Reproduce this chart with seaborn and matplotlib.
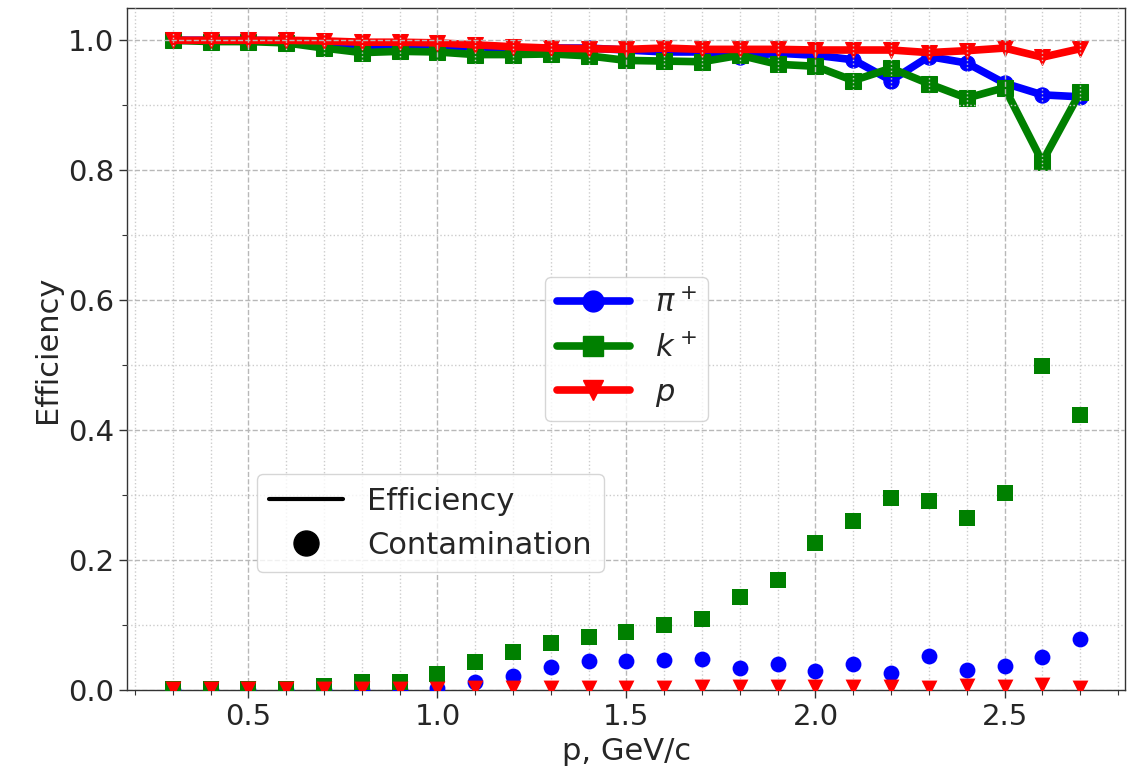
import numpy as np
import matplotlib
matplotlib.use("Agg")
import matplotlib.pyplot as plt
from matplotlib.lines import Line2D
from matplotlib.ticker import MultipleLocator
import seaborn as sns

sns.set_style("ticks")
plt.rcParams['font.family'] = ['DejaVu Sans']
plt.rcParams['mathtext.fontset'] = 'dejavusans'

# momentum, GeV/c
p = [0.3, 0.4, 0.5, 0.6, 0.7, 0.8, 0.9, 1.0, 1.1, 1.2, 1.3, 1.4, 1.5,
     1.6, 1.7, 1.8, 1.9, 2.0, 2.1, 2.2, 2.3, 2.4, 2.5, 2.6, 2.7]

# efficiency
eff_pi = [1.000, 1.000, 1.000, 0.999, 0.995, 0.992, 0.991, 0.990, 0.990, 0.988, 0.988, 0.988, 0.985,
          0.982, 0.982, 0.975, 0.980, 0.977, 0.970, 0.938, 0.975, 0.965, 0.934, 0.916, 0.913]
eff_k = [1.000, 0.998, 0.998, 0.996, 0.988, 0.981, 0.983, 0.982, 0.978, 0.978, 0.979, 0.976, 0.969,
         0.968, 0.967, 0.977, 0.963, 0.960, 0.938, 0.957, 0.933, 0.911, 0.927, 0.813, 0.920]
eff_p = [1.000, 1.000, 1.000, 1.000, 0.999, 0.997, 0.997, 0.996, 0.993, 0.990, 0.988, 0.987, 0.986,
         0.988, 0.986, 0.986, 0.986, 0.985, 0.985, 0.985, 0.981, 0.984, 0.988, 0.974, 0.987]

# contamination
cont_pi = [0.000, 0.000, 0.000, 0.000, 0.000, 0.000, 0.000, 0.003, 0.013, 0.022, 0.036, 0.044, 0.044,
           0.046, 0.048, 0.034, 0.040, 0.029, 0.040, 0.026, 0.053, 0.031, 0.037, 0.051, 0.079]
cont_k = [0.001, 0.001, 0.001, 0.002, 0.007, 0.013, 0.013, 0.024, 0.043, 0.059, 0.073, 0.082, 0.090,
          0.100, 0.109, 0.144, 0.169, 0.227, 0.260, 0.296, 0.291, 0.265, 0.304, 0.498, 0.423]
cont_p = [0.002, 0.002, 0.002, 0.002, 0.002, 0.002, 0.002, 0.002, 0.003, 0.003, 0.003, 0.003, 0.003,
          0.003, 0.004, 0.004, 0.004, 0.004, 0.004, 0.005, 0.003, 0.006, 0.004, 0.008, 0.003]

species = [
    (r"$\pi^+$", eff_pi, cont_pi, "blue", "o"),
    (r"$k^+$", eff_k, cont_k, "green", "s"),
    (r"$p$", eff_p, cont_p, "red", "v"),
]

fig, ax = plt.subplots(figsize=(11.38, 7.78), dpi=100)
fig.subplots_adjust(left=0.112, right=0.989, top=0.99, bottom=0.113)

for label, eff, cont, col, mk in species:
    sns.lineplot(x=p, y=eff, color=col, marker=mk, markersize=11,
                 markeredgecolor=col, linewidth=5.5, ax=ax)
for label, eff, cont, col, mk in species:
    sns.scatterplot(x=p, y=cont, color=col, marker=mk, s=130,
                    edgecolor=col, linewidth=0, ax=ax, zorder=3)

ax.set_ylim(0, 1.05)
ax.set_xlim(0.18, 2.82)
ax.xaxis.set_major_locator(MultipleLocator(0.5))
ax.xaxis.set_minor_locator(MultipleLocator(0.1))
ax.yaxis.set_major_locator(MultipleLocator(0.2))
ax.yaxis.set_minor_locator(MultipleLocator(0.1))
ax.grid(which='major', linestyle='--', color='#b8b8b8', linewidth=1.0)
ax.grid(which='minor', linestyle=':', color='#cccccc', linewidth=1.0)
ax.set_axisbelow(False)
for s in ax.spines.values():
    s.set_color('#333333')
    s.set_linewidth(1.0)
ax.tick_params(which='major', labelsize=21, length=6, width=1, color='#333333')
ax.tick_params(which='minor', length=3.5, width=0.8, color='#333333')
ax.set_xlabel("p, GeV/c", fontsize=22)
ax.set_ylabel("Efficiency", fontsize=22)

h1 = [Line2D([], [], color=col, marker=mk, markersize=15, linewidth=5.5)
      for label, eff, cont, col, mk in species]
leg1 = ax.legend(h1, [s[0] for s in species], loc='center', fontsize=22,
                 handlelength=2.4, frameon=True, fancybox=True, edgecolor='0.8',
                 framealpha=0.8)
ax.add_artist(leg1)

h2 = [Line2D([], [], color='black', linewidth=3),
      Line2D([], [], color='black', marker='o', markersize=18, linestyle='none')]
ax.legend(h2, ["Efficiency", "Contamination"], loc='lower left',
          bbox_to_anchor=(0.13, 0.173), borderaxespad=0, fontsize=22,
          handlelength=2.4, frameon=True, fancybox=True, edgecolor='0.8',
          framealpha=0.8)

plt.savefig("out.png", dpi=100)
